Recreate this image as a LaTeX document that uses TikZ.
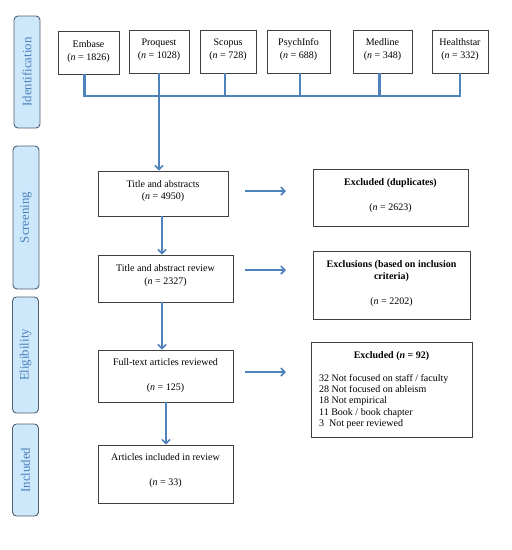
\documentclass[tikz,border=0pt]{standalone}
\usepackage{fontspec}
\setmainfont{Liberation Serif}
\usetikzlibrary{arrows.meta}
\definecolor{conn}{HTML}{4F81BD}
\definecolor{barfill}{HTML}{CDE8FB}
\definecolor{barline}{HTML}{4F5F72}
\definecolor{bartext}{HTML}{4A7EBB}
\definecolor{boxline}{HTML}{404040}
\tikzset{
  box/.style={draw=boxline, line width=0.9pt, fill=white, inner sep=0pt},
  lbl/.style={align=center, inner sep=0pt, font=\fontsize{10}{12}\selectfont},
  bar/.style={draw=barline, line width=0.9pt, fill=barfill, rounded corners=4pt, minimum width=26pt, inner sep=0pt},
  bartxt/.style={rotate=90, text=bartext, font=\fontsize{12.8}{14}\selectfont, inner sep=0pt},
  link/.style={draw=conn, line width=2.2pt},
  arr/.style={link, -{Straight Barb[length=4pt,width=8pt,line width=1.6pt]}},
}
\newcommand{\nn}{\textit{n}}
\begin{document}
\begin{tikzpicture}[x=1pt,y=-1pt]
\useasboundingbox (0,0) rectangle (512,550);
% phase bars
\node[bar, minimum height=112pt] (b1) at (27,72) {};
\node[bartxt] (t1) at (b1.center) {Identification};
\node[bar, minimum height=143pt] (b2) at (26,217.5) {};
\node[bartxt] (t2) at (b2.center) {Screening};
\node[bar, minimum height=116pt] (b3) at (25.5,355) {};
\node[bartxt] (t3) at (b3.center) {Eligibility};
\node[bar, minimum height=92pt] (b4) at (25.5,470) {};
\node[bartxt] (t4) at (b4.center) {Included};
% database boxes
\node[box, minimum width=61pt, minimum height=43pt] (emb) at (88.5,52.5) {};
\node[lbl, font=\fontsize{10}{13}\selectfont] (embt) at (88.5,51.5) {Embase\\(\nn{} = 1826)};
\node[box, minimum width=60pt, minimum height=43pt] (pq) at (159,51.5) {};
\node[lbl, font=\fontsize{10}{13}\selectfont] (pqt) at (159,50) {Proquest\\(\nn{} = 1028)};
\node[box, minimum width=56pt, minimum height=43pt] (sc) at (228,51.5) {};
\node[lbl, font=\fontsize{10}{13}\selectfont] (sct) at (228,50) {Scopus\\(\nn{} = 728)};
\node[box, minimum width=63pt, minimum height=43pt] (ps) at (298.5,51.5) {};
\node[lbl, font=\fontsize{10}{13}\selectfont] (pst) at (298.5,50) {PsychInfo\\(\nn{} = 688)};
\node[box, minimum width=59pt, minimum height=43pt] (md) at (382.5,51.5) {};
\node[lbl, font=\fontsize{10}{13}\selectfont] (mdt) at (382.5,50) {Medline\\(\nn{} = 348)};
\node[box, minimum width=56pt, minimum height=43pt] (hs) at (460,51.5) {};
\node[lbl, font=\fontsize{10}{13}\selectfont] (hst) at (460,50) {Healthstar\\(\nn{} = 332)};
\coordinate (bus) at (0,96);
% main flow
\node[box, minimum width=130pt, minimum height=45pt] (ta) at (163,193.5) {};
\node[lbl] (tat) at (163,191) {Title and abstracts\\(\nn{} = 4950)};
\node[box, minimum width=135pt, minimum height=47pt] (rev) at (165.5,278.5) {};
\node[lbl, font=\fontsize{10}{13}\selectfont] (revt) at (165.5,275.5) {Title and abstract review\\(\nn{} = 2327)};
\node[box, minimum width=135pt, minimum height=52pt] (ft) at (165.5,376) {};
\node[lbl, font=\fontsize{10}{25}\selectfont] (ftt) at (165.5,375.5) {Full-text articles reviewed\\(\nn{} = 125)};
\node[box, minimum width=135pt, minimum height=58pt] (ai) at (165.5,474) {};
\node[lbl, font=\fontsize{10}{25}\selectfont] (ait) at (165.5,470.5) {Articles included in review\\(\nn{} = 33)};
% exclusion boxes
\node[box, minimum width=155pt, minimum height=57pt] (dup) at (390.5,197.5) {};
\node[lbl, font=\fontsize{10}{25}\selectfont] (dupt) at (390.5,195.5) {\textbf{Excluded (duplicates)}\\(\nn{} = 2623)};
\node[box, minimum width=157pt, minimum height=68pt] (exc) at (391.5,285) {};
\node[lbl] (exct) at (391.5,283.5) {\textbf{Exclusions (based on inclusion}\\\textbf{criteria)}\\[13pt](\nn{} = 2202)};
\node[box, minimum width=161pt, minimum height=95pt] (ex92) at (391.5,389.5) {};
\node[lbl] (ex92t) at (391.5,356) {\textbf{Excluded (\textit{n} = 92)}};
\node[lbl, align=left, anchor=west, font=\fontsize{10}{11.3}\selectfont] (ex92l) at (319,401.5) {32 Not focused on staff / faculty\\28 Not focused on ableism\\18 Not empirical\\11 Book / book chapter\\3\enspace Not peer reviewed};
% bus connectors
\draw[link] ([xshift=-4pt]emb.south) -- ([xshift=-4pt]emb.south |- bus) -| (hs.south);
\draw[link] (pq.south) -- (pq.south |- bus);
\draw[link] ([xshift=-3pt]sc.south) -- ([xshift=-3pt]sc.south |- bus);
\draw[link] ([xshift=1.5pt]ps.south) -- ([xshift=1.5pt]ps.south |- bus);
\draw[link] ([xshift=-3pt]md.south) -- ([xshift=-3pt]md.south |- bus);
\draw[arr] (pq.south |- bus) -- (pq.south |- ta.north);
% vertical arrows
\draw[arr] ([xshift=-1pt]ta.south) -- ([xshift=-1pt]ta.south |- rev.north);
\draw[arr] ([xshift=-3.5pt]rev.south) -- ([xshift=-3.5pt]rev.south |- ft.north);
\draw[arr] ([xshift=0.5pt]ft.south) -- ([xshift=0.5pt]ft.south |- ai.north);
% side arrows
\coordinate (s1) at (245,191); \coordinate (e1) at (286,191);
\coordinate (s2) at (245,270); \coordinate (e2) at (286,270);
\coordinate (s3) at (245,372); \coordinate (e3) at (286,372);
\draw[arr] (s1) -- (e1);
\draw[arr] (s2) -- (e2);
\draw[arr] (s3) -- (e3);
\end{tikzpicture}
\end{document}
